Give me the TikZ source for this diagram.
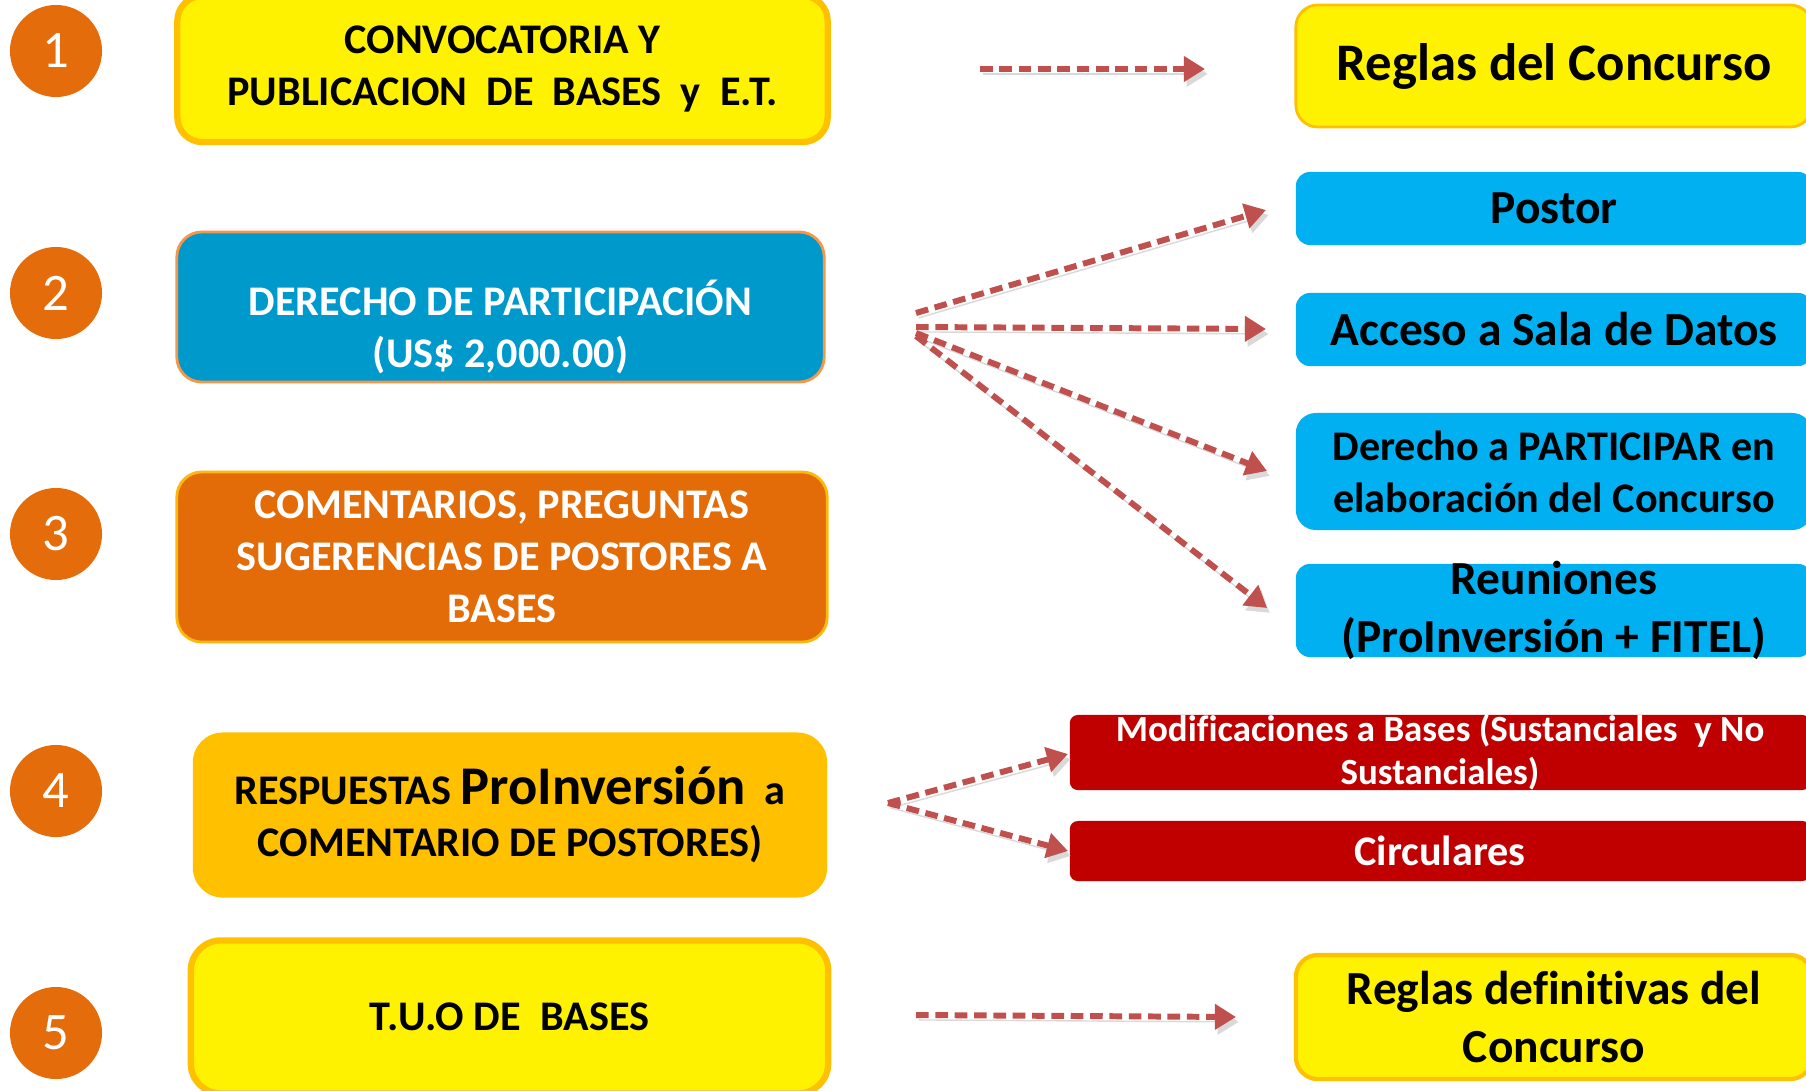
\documentclass[tikz,border=0pt]{standalone}
\usepackage{fontspec}
\setmainfont{Carlito}[Ligatures=NoCommon]
\usetikzlibrary{arrows.meta}

\definecolor{numorange}{HTML}{E46C0A}
\definecolor{gold}{HTML}{FFC000}
\definecolor{lightorange}{HTML}{F79646}
\definecolor{steelblue}{HTML}{0099CC}
\definecolor{skyblue}{HTML}{00B0F0}
\definecolor{burnt}{HTML}{E36C09}
\definecolor{darkred}{HTML}{C00000}
\definecolor{arrowred}{HTML}{C0504D}

\begin{document}
\begin{tikzpicture}[x=0.01cm, y=-0.01cm,
  num/.style={circle, fill=numorange, text=white, minimum size=0.92cm,
    inner sep=0pt, font=\fontsize{15}{18}\selectfont},
  box/.style={rounded corners=0.25cm, align=center, inner sep=0pt,
    font=\bfseries\fontsize{12}{14.8}\selectfont},
  side/.style={box, minimum width=5.16cm, rounded corners=0.14cm,
    font=\bfseries\fontsize{13.5}{16.4}\selectfont},
  lbl/.style={align=center, inner sep=0pt},
  dasharrow/.style={arrowred, line width=1.7pt, dash pattern=on 3.6pt off 1.9pt,
    -{Triangle[length=6pt,width=7pt]},
    preaction={draw=black!15, transform canvas={shift={(0.8pt,-1.4pt)}}}}]

  \useasboundingbox (0,0) rectangle (1806,1091);

  % step numbers
  \node[num] (c1) at (56,51)   {1};
  \node[num] (c2) at (56,293)  {2};
  \node[num] (c3) at (56,534)  {3};
  \node[num] (c4) at (56,791)  {4};
  \node[num] (c5) at (56,1033) {5};

  % left column
  \node[box, fill=yellow, draw=gold, line width=1.8pt,
    minimum width=6.5cm, minimum height=1.46cm] (b1) at (502.5,69)
    {CONVOCATORIA Y\\PUBLICACION~~DE~~BASES~~y~~E.T.};
  \node[box, fill=steelblue, draw=lightorange, line width=0.8pt,
    minimum width=6.47cm, minimum height=1.5cm] (b2) at (500.5,307) {};
  \node[lbl, text=white, font=\bfseries\fontsize{12}{14.8}\selectfont] (b2t)
    at ([yshift=-0.2cm]b2.center) {DERECHO DE PARTICIPACIÓN\\(US\$ 2,000.00)};
  \node[box, fill=burnt, draw=gold!80!lightorange, line width=0.8pt, text=white,
    minimum width=6.5cm, minimum height=1.7cm] (b3) at (502,557)
    {COMENTARIOS, PREGUNTAS\\SUGERENCIAS DE POSTORES A\\BASES};
  \node[box, fill=gold, rounded corners=0.3cm,
    minimum width=6.34cm, minimum height=1.65cm] (b4) at (510,815)
    {RESPUESTAS {\fontsize{15.5}{18}\selectfont ProInversión}~~a\\COMENTARIO DE POSTORES)};
  \node[box, fill=yellow, draw=gold, line width=1.8pt, rounded corners=0.3cm,
    minimum width=6.37cm, minimum height=1.53cm] (b5) at (509.5,1017)
    {T.U.O DE~~BASES};

  % right column
  \node[side, fill=yellow, draw=gold, line width=0.8pt, minimum height=1.22cm,
    rounded corners=0.22cm, font=\bfseries\fontsize{15}{18}\selectfont] (r1)
    at (1554,66) {Reglas del Concurso};
  \node[side, fill=skyblue, minimum height=0.73cm] (r2) at (1554,208.5) {Postor};
  \node[side, fill=skyblue, minimum height=0.73cm] (r3) at (1554,329.5)
    {Acceso a Sala de Datos};
  \node[side, fill=skyblue, minimum height=1.17cm, rounded corners=0.2cm,
    font=\bfseries\fontsize{12}{14.8}\selectfont] (r4) at (1554,471.5)
    {Derecho a PARTICIPAR en\\elaboración del Concurso};
  \node[side, fill=skyblue, minimum height=0.93cm] (r5) at (1554,610.5) {};
  \node[lbl, font=\bfseries\fontsize{13.5}{16.4}\selectfont] (r5t) at (r5.center)
    {Reuniones\\(ProInversión + FITEL)};
  \node[box, fill=darkred, rounded corners=0.08cm, minimum width=7.4cm,
    minimum height=0.75cm] (m1) at (1440,752.5) {};
  \node[lbl, text=white, font=\bfseries\fontsize{10.5}{12.2}\selectfont] (m1t)
    at (m1.center) {Modificaciones a Bases (Sustanciales~~y No\\Sustanciales)};
  \node[box, fill=darkred, rounded corners=0.08cm, minimum width=7.4cm,
    minimum height=0.6cm, text=white] (m2) at (1440,851) {Circulares};
  \node[side, fill=yellow, draw=gold, line width=1.2pt, minimum height=1.24cm,
    rounded corners=0.22cm] (r6) at (1554,1017)
    {Reglas definitivas del\\Concurso};

  % arrow ends
  \coordinate (a1s) at (980,69);   \coordinate (a1e) at (1205,69);
  \coordinate (f2a) at (916,313);  \coordinate (e2a) at (1266,210);
  \coordinate (f2b) at (916,327);  \coordinate (e2b) at (1266,329);
  \coordinate (f2c) at (916,333);  \coordinate (e2c) at (1267,471);
  \coordinate (f2d) at (916,336);  \coordinate (e2d) at (1267,608);
  \coordinate (f4) at (888,803);
  \coordinate (e4a) at (1068,754); \coordinate (e4b) at (1068,851);
  \coordinate (a5s) at (916,1015); \coordinate (a5e) at (1236,1017);

  % arrows
  \draw[dasharrow] (a1s) -- (a1e);
  \draw[dasharrow] (f2a) -- (e2a);
  \draw[dasharrow] (f2b) -- (e2b);
  \draw[dasharrow] (f2c) -- (e2c);
  \draw[dasharrow] (f2d) -- (e2d);
  \draw[dasharrow] (f4) -- (e4a);
  \draw[dasharrow] (f4) -- (e4b);
  \draw[dasharrow] (a5s) -- (a5e);

\end{tikzpicture}
\end{document}
